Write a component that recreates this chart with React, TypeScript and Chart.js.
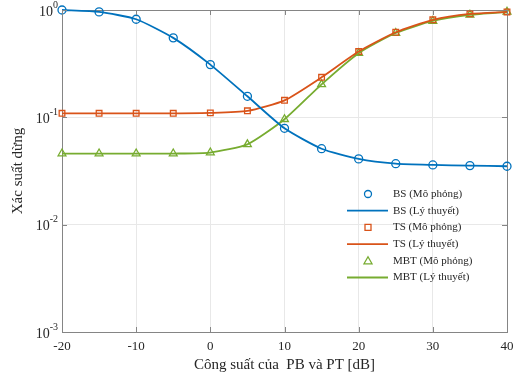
import React, { useEffect, useRef } from "react";
import { Chart, registerables } from "chart.js";

Chart.register(...registerables);

const xValues = [-20, -15, -10, -5, 0, 5, 10, 15, 20, 25, 30, 35, 40];
const bsSim = [1.0, 0.96, 0.82, 0.55, 0.31, 0.157, 0.079, 0.051, 0.041, 0.037, 0.036, 0.0355, 0.035];
const bsTheory = [1.0, 0.96, 0.82, 0.55, 0.31, 0.157, 0.079, 0.051, 0.041, 0.037, 0.036, 0.0355, 0.035];
const tsSim = [0.109, 0.109, 0.109, 0.109, 0.11, 0.115, 0.144, 0.236, 0.41, 0.62, 0.81, 0.92, 0.96];
const tsTheory = [0.109, 0.109, 0.109, 0.109, 0.11, 0.115, 0.144, 0.236, 0.41, 0.62, 0.81, 0.92, 0.96];
const mbtSim = [0.046, 0.046, 0.046, 0.046, 0.047, 0.056, 0.096, 0.203, 0.396, 0.61, 0.79, 0.9, 0.96];
const mbtTheory = [0.046, 0.046, 0.046, 0.046, 0.047, 0.056, 0.096, 0.203, 0.396, 0.61, 0.79, 0.9, 0.96];
const xTicks = [-20, -10, 0, 10, 20, 30, 40];
const yTickExps = [0, -1, -2, -3];
const legendLabels = ["BS (Mô phỏng)", "BS (Lý thuyết)", "TS (Mô phỏng)", "TS (Lý thuyết)", "MBT (Mô phỏng)", "MBT (Lý thuyết)"];
const xTitle = "Công suất của  PB và PT [dB]";
const yTitle = "Xác suất dừng";

const BLUE = "#0072BD";
const ORANGE = "#D95319";
const GREEN = "#77AC30";
const FONT = '"Liberation Serif", "Times New Roman", serif';

const pts = (ys: number[]) => ys.map((y, i) => ({ x: xValues[i], y }));

export default function App() {
  const ref = useRef<HTMLCanvasElement>(null);
  useEffect(() => {
    const canvas = ref.current!;
    const decor = {
      id: "decor",
      beforeDatasetsDraw(chart: any) {
        const ctx = chart.ctx;
        const { left, right, top, bottom } = chart.chartArea;
        ctx.save();
        ctx.strokeStyle = "#858585";
        ctx.lineWidth = 1;
        ctx.strokeRect(Math.round(left) + 0.5, Math.round(top) + 0.5, Math.round(right - left), Math.round(bottom - top));
        ctx.restore();
      },
      afterDraw(chart: any) {
        const ctx = chart.ctx;
        const { left, right, top, bottom } = chart.chartArea;
        const xs = chart.scales.x;
        const ys = chart.scales.y;
        ctx.save();
        ctx.strokeStyle = "#858585";
        ctx.lineWidth = 1;
        // ticks
        ctx.beginPath();
        xTicks.forEach((t) => {
          const px = Math.round(xs.getPixelForValue(t)) + 0.5;
          ctx.moveTo(px, bottom);
          ctx.lineTo(px, bottom - 5);
          ctx.moveTo(px, top);
          ctx.lineTo(px, top + 5);
        });
        yTickExps.forEach((e) => {
          const py = Math.round(ys.getPixelForValue(Math.pow(10, e))) + 0.5;
          ctx.moveTo(left, py);
          ctx.lineTo(left + 5, py);
          ctx.moveTo(right, py);
          ctx.lineTo(right - 5, py);
        });
        ctx.stroke();
        // x tick labels
        ctx.fillStyle = "#262626";
        ctx.font = `13px ${FONT}`;
        ctx.textAlign = "center";
        ctx.textBaseline = "middle";
        xTicks.forEach((t) => {
          ctx.fillText(String(t), xs.getPixelForValue(t), bottom + 15);
        });
        // y tick labels with superscripts
        yTickExps.forEach((e) => {
          const py = ys.getPixelForValue(Math.pow(10, e));
          const sup = String(e);
          ctx.font = `10px ${FONT}`;
          const sw = ctx.measureText(sup).width;
          ctx.font = `14px ${FONT}`;
          const bw = ctx.measureText("10").width;
          const endX = 58;
          const startX = endX - sw - bw;
          ctx.textAlign = "left";
          ctx.textBaseline = "middle";
          ctx.fillText("10", startX, py + 2);
          ctx.font = `10px ${FONT}`;
          ctx.fillText(sup, startX + bw, py - 5);
        });
        // titles
        ctx.font = `15px ${FONT}`;
        ctx.textAlign = "center";
        ctx.textBaseline = "middle";
        ctx.fillText(xTitle, (left + right) / 2, bottom + 33);
        ctx.save();
        ctx.translate(18, (top + bottom) / 2);
        ctx.rotate(-Math.PI / 2);
        ctx.fillText(yTitle, 0, 0);
        ctx.restore();
        // legend
        const colors = [BLUE, BLUE, ORANGE, ORANGE, GREEN, GREEN];
        const rowY0 = 194;
        const rowH = 16.7;
        legendLabels.forEach((lab, i) => {
          const y = rowY0 + i * rowH;
          ctx.strokeStyle = colors[i];
          ctx.lineWidth = i % 2 === 1 ? 1.8 : 1.3;
          if (i % 2 === 1) {
            ctx.beginPath();
            ctx.moveTo(347, y);
            ctx.lineTo(388, y);
            ctx.stroke();
          } else {
            const cx = 368;
            ctx.beginPath();
            if (i === 0) {
              ctx.arc(cx, y, 3.5, 0, Math.PI * 2);
            } else if (i === 2) {
              ctx.rect(cx - 3, y - 3, 6, 6);
            } else {
              ctx.moveTo(cx, y - 4);
              ctx.lineTo(cx + 4, y + 3);
              ctx.lineTo(cx - 4, y + 3);
              ctx.closePath();
            }
            ctx.stroke();
          }
          ctx.fillStyle = "#262626";
          ctx.font = `11px ${FONT}`;
          ctx.textAlign = "left";
          ctx.textBaseline = "middle";
          ctx.fillText(lab, 393, y);
        });
        ctx.restore();
      },
    };

    const lineDs = (label: string, data: number[], color: string) => ({
      label,
      data: pts(data),
      borderColor: color,
      backgroundColor: color,
      borderWidth: 1.8,
      pointRadius: 0,
      showLine: true,
      tension: 0.2,
      clip: false,
    });
    const simDs = (label: string, data: number[], color: string, style: string, r: number) => ({
      label,
      data: pts(data),
      borderColor: color,
      backgroundColor: "rgba(0,0,0,0)",
      borderWidth: 1.3,
      pointRadius: r,
      pointStyle: style,
      showLine: false,
      clip: false,
    });

    const chart = new Chart(canvas, {
      type: "scatter",
      data: {
        datasets: [
          lineDs("BS (Lý thuyết)", bsTheory, BLUE),
          lineDs("TS (Lý thuyết)", tsTheory, ORANGE),
          lineDs("MBT (Lý thuyết)", mbtTheory, GREEN),
          simDs("BS (Mô phỏng)", bsSim, BLUE, "circle", 4),
          simDs("TS (Mô phỏng)", tsSim, ORANGE, "rect", 4),
          simDs("MBT (Mô phỏng)", mbtSim, GREEN, "triangle", 4.5),
        ] as any,
      },
      options: {
        animation: false,
        responsive: false,
        maintainAspectRatio: false,
        layout: { padding: { left: 62, right: 7, top: 10, bottom: 49 } },
        plugins: { legend: { display: false }, tooltip: { enabled: false } },
        scales: {
          x: {
            type: "linear",
            min: -20,
            max: 40,
            afterFit: (s: any) => { s.height = 0; },
            afterBuildTicks: (s: any) => { s.ticks = xTicks.map((v) => ({ value: v })); },
            ticks: { display: false },
            grid: { color: "#e8e8e8", drawTicks: false, lineWidth: 1 },
            border: { display: false },
          },
          y: {
            type: "logarithmic",
            min: 0.001,
            max: 1,
            afterFit: (s: any) => { s.width = 0; },
            afterBuildTicks: (s: any) => { s.ticks = yTickExps.map((e) => ({ value: Math.pow(10, e) })); },
            ticks: { display: false },
            grid: { color: "#e8e8e8", drawTicks: false, lineWidth: 1 },
            border: { display: false },
          },
        },
      },
      plugins: [decor],
    } as any);
    return () => chart.destroy();
  }, []);

  return (
    <div style={{ position: "absolute", left: 0, top: 0, width: 514, height: 381, background: "#fff" }}>
      <canvas ref={ref} width={514} height={381} style={{ width: 514, height: 381 }} />
    </div>
  );
}
